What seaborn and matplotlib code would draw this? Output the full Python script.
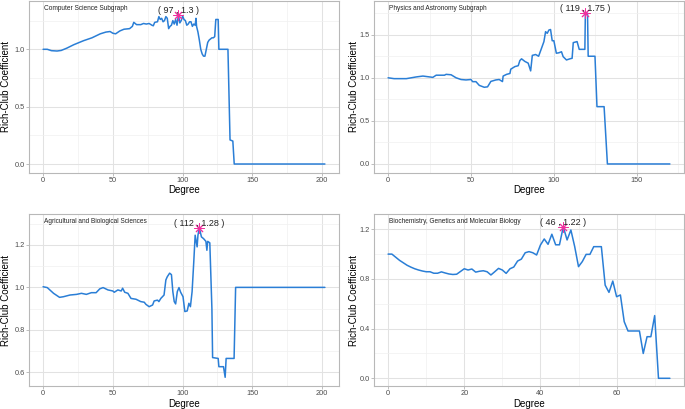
import numpy as np
import pandas as pd
import matplotlib
matplotlib.use("Agg")
import matplotlib.pyplot as plt
import seaborn as sns
from matplotlib.ticker import MultipleLocator, FormatStrFormatter

# ---------------- data ----------------
cs_degree = [0, 3, 6, 10, 13, 17, 22, 29, 35, 41, 45, 48, 50, 52, 55, 58, 62, 64, 65, 67,
             70, 72, 74, 76, 78, 79, 80, 82, 83, 84, 85, 86, 87, 88, 89, 90, 91, 92, 93, 94,
             95, 96, 97, 98, 99, 100, 101, 102, 103, 104, 105, 106, 107, 108, 109, 109.6, 110,
             111, 112, 113, 114, 115, 116, 117, 118, 119, 120, 121, 122, 123, 123.8, 125.5,
             126, 132.5, 134, 136, 137, 202]
cs_coef = [1.0, 1.0, 0.988, 0.985, 0.99, 1.01, 1.04, 1.075, 1.10, 1.135, 1.15, 1.155, 1.14,
           1.135, 1.16, 1.175, 1.18, 1.20, 1.235, 1.215, 1.215, 1.225, 1.22, 1.225, 1.21, 1.205,
           1.235, 1.24, 1.285, 1.26, 1.27, 1.24, 1.25, 1.285, 1.27, 1.18, 1.20, 1.21, 1.25, 1.22,
           1.26, 1.21, 1.30, 1.23, 1.25, 1.29, 1.26, 1.25, 1.21, 1.22, 1.24, 1.24, 1.20, 1.22,
           1.21, 1.27, 1.20, 1.15, 1.08, 1.00, 0.96, 0.94, 0.94, 1.00, 1.06, 1.08, 1.09, 1.10,
           1.10, 1.11, 1.26, 1.26, 1.0, 1.0, 0.21, 0.2, 0.0, 0.0]

phys_degree = [0, 3.6, 11, 17, 21, 27, 29, 34, 35, 38, 41, 44, 47, 50, 51, 53, 55, 58, 60, 62,
               65, 67, 69, 69.4, 71.5, 73.5, 74, 76.5, 78.5, 79.5, 80.5, 82.5, 84.5, 86, 87, 89,
               90.8, 92.5, 94, 95, 96, 97, 98, 99, 100, 101.5, 103, 104.6, 105.6, 107.6, 110,
               111, 111.7, 114, 115.3, 118.7, 119, 120.3, 120.7, 124.8, 126, 130.3, 132.3, 170]
phys_coef = [1.0, 0.99, 0.99, 1.01, 1.02, 1.005, 1.03, 1.03, 1.04, 1.035, 1.0, 0.98, 0.975,
             0.98, 0.955, 0.955, 0.912, 0.89, 0.895, 0.958, 0.975, 0.98, 0.956, 1.02, 1.04, 1.05,
             1.1, 1.13, 1.14, 1.2, 1.22, 1.19, 1.17, 1.08, 1.26, 1.27, 1.25, 1.34, 1.42, 1.535,
             1.516, 1.554, 1.56, 1.43, 1.43, 1.285, 1.29, 1.302, 1.245, 1.207, 1.222, 1.226,
             1.408, 1.42, 1.33, 1.33, 1.75, 1.75, 1.25, 1.25, 0.665, 0.665, 0.0, 0.0]

ag_degree = [0, 3, 7.5, 11.8, 14.6, 19.3, 24, 27.5, 31, 34.6, 38, 40.6, 43, 46.5, 50, 51, 53.6,
             56, 57, 58.5, 60.8, 63, 66.6, 70, 72.5, 73.7, 76, 78.5, 79.6, 82, 83, 84.4, 86.7,
             88, 89, 90.7, 92, 93, 94, 95, 96.2, 97.4, 98.6, 100.3, 101.6, 103.3, 104.5, 105.6,
             106.8, 108, 109, 110.4, 111, 112, 113.5, 115, 116.7, 117.4, 118, 119.5, 121, 121.5,
             125.5, 126, 129.3, 130.5, 131.2, 136.9, 138, 202]
ag_coef = [1.003, 0.999, 0.972, 0.953, 0.956, 0.964, 0.967, 0.972, 0.967, 0.975, 0.975, 0.993,
           0.999, 0.988, 0.983, 0.977, 0.988, 0.983, 0.996, 0.977, 0.972, 0.948, 0.944, 0.933,
           0.93, 0.92, 0.909, 0.917, 0.936, 0.94, 0.933, 0.948, 0.964, 1.035, 1.05, 1.067, 1.06,
           0.98, 0.933, 0.922, 0.98, 0.999, 0.977, 0.956, 0.886, 0.889, 0.925, 0.909, 0.98, 1.12,
           1.246, 1.191, 1.246, 1.28, 1.238, 1.23, 1.217, 1.175, 1.217, 1.21, 0.9, 0.669, 0.665,
           0.626, 0.626, 0.576, 0.665, 0.665, 1.0, 1.0]

bio_degree = list(range(0, 75))
bio_coef = [1.0, 1.0, 0.975, 0.95, 0.93, 0.91, 0.895, 0.882, 0.872, 0.864, 0.858, 0.858, 0.846,
            0.846, 0.857, 0.848, 0.84, 0.836, 0.838, 0.86, 0.882, 0.872, 0.88, 0.855, 0.862,
            0.866, 0.858, 0.832, 0.858, 0.885, 0.872, 0.845, 0.882, 0.896, 0.944, 0.96, 1.011,
            1.02, 1.011, 0.993, 1.073, 1.122, 1.079, 1.16, 1.075, 1.075, 1.22, 1.114, 1.194, 1.06,
            0.899, 0.94, 0.998, 0.998, 1.06, 1.06, 1.06, 0.75, 0.692, 0.783, 0.657, 0.671, 0.456,
            0.381, 0.381, 0.381, 0.381, 0.2, 0.335, 0.335, 0.505, 0.0, 0.0, 0.0, 0.0]

titles = ["Computer Science Subgraph", "Physics and Astronomy Subgraph",
          "Agricultural and Biological Sciences", "Biochemistry, Genetics and Molecular Biology"]
peak_x = [97, 119, 112, 46]
peak_y = [1.3, 1.75, 1.28, 1.22]
peak_labels = ["( 97 , 1.3 )", "( 119 , 1.75 )", "( 112 , 1.28 )", "( 46 , 1.22 )"]

x_ticks = [[0, 50, 100, 150, 200], [0, 50, 100, 150], [0, 50, 100, 150, 200], [0, 20, 40, 60]]
y_ticks = [[0.0, 0.5, 1.0], [0.0, 0.5, 1.0, 1.5], [0.6, 0.8, 1.0, 1.2], [0.0, 0.4, 0.8, 1.2]]

# ---------------- style ----------------
sns.set_theme(style="white")
plt.rcParams['font.family'] = ['Liberation Sans', 'DejaVu Sans']

LINE = "#2A7ED6"
STAR = "#F0309E"
W, H = 685, 409


def frac(x0, x1, y0, y1):
    return [x0 / W, 1 - y1 / H, (x1 - x0) / W, (y1 - y0) / H]


positions = [frac(29, 339, 1, 172.5), frac(374, 684, 1, 172.5),
             frac(29, 339, 214, 386), frac(374, 684, 214, 386)]
xlims = [(-10.1, 212.1), (-8.5, 178.5), (-10.1, 212.1), (-3.7, 77.7)]
ylims = [(-0.074, 1.421), (-0.099, 1.891), (0.535, 1.346), (-0.062, 1.323)]
xminor = [25, 25, 25, 10]
yminor = [0.25, 0.25, 0.1, 0.2]
ylab_x = [-0.058, -0.048, -0.058, -0.048]
data = [(cs_degree, cs_coef), (phys_degree, phys_coef), (ag_degree, ag_coef), (bio_degree, bio_coef)]

fig = plt.figure(figsize=(W / 100, H / 100), dpi=100)
fig.patch.set_facecolor("white")

for i in range(4):
    ax = fig.add_axes(positions[i])
    ax.set_facecolor("white")
    deg, coef = data[i]
    df = pd.DataFrame({"Degree": deg, "Rich-Club Coefficient": coef})
    sns.lineplot(data=df, x="Degree", y="Rich-Club Coefficient", ax=ax, color=LINE,
                 linewidth=1.1, estimator=None, sort=False, zorder=3)
    sns.scatterplot(x=[peak_x[i]], y=[peak_y[i]], ax=ax, marker=(8, 2, 0), color=STAR,
                    s=45, linewidth=0.7, zorder=4)
    ax.annotate(peak_labels[i], (peak_x[i], peak_y[i]), xytext=(0, 3.4),
                textcoords="offset points", ha="center", va="center", fontsize=6.5,
                color="#222222", zorder=5)
    ax.text(0.05, 0.958, titles[i], transform=ax.transAxes, fontsize=4.7, ha="left",
            va="center", color="#222222")

    ax.set_xlim(*xlims[i])
    ax.set_ylim(*ylims[i])
    ax.set_xticks(x_ticks[i])
    ax.set_yticks(y_ticks[i])
    ax.xaxis.set_minor_locator(MultipleLocator(xminor[i]))
    ax.yaxis.set_minor_locator(MultipleLocator(yminor[i]))
    ax.yaxis.set_major_formatter(FormatStrFormatter("%.1f"))

    ax.grid(which="major", color="#E2E2E2", linewidth=0.75, zorder=0)
    ax.grid(which="minor", color="#F0F0F0", linewidth=0.5, zorder=0)
    ax.set_axisbelow(True)
    for sp in ax.spines.values():
        sp.set_visible(True)
        sp.set_color("#B8B8B8")
        sp.set_linewidth(0.8)

    ax.tick_params(which="major", length=2, width=0.6, color="#B3B3B3", pad=1.2,
                   labelsize=5.3, labelcolor="#4D4D4D", bottom=True, left=True)
    ax.tick_params(which="minor", length=0)

    ax.set_xlabel("Degree", fontsize=7, color="black")
    ax.set_ylabel("Rich-Club Coefficient", fontsize=7, color="black")
    ax.xaxis.set_label_coords(0.5, -0.073)
    ax.yaxis.set_label_coords(ylab_x[i], 0.5)

fig.savefig("out.png", dpi=100, facecolor="white")
